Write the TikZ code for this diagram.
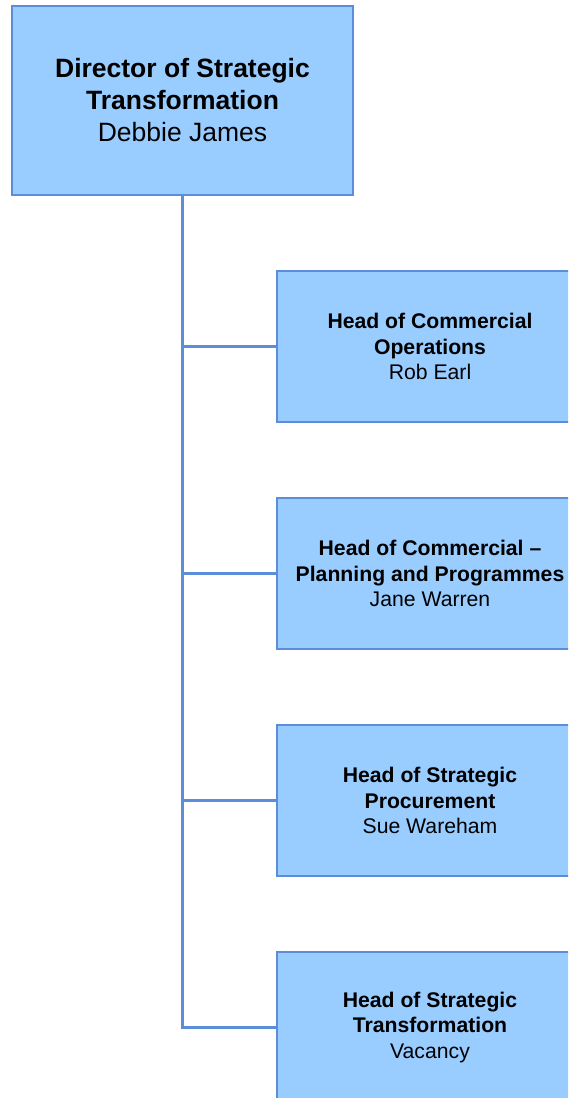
\documentclass[tikz,border=0pt]{standalone}
\usepackage{fontspec}
\setmainfont{Liberation Sans}
\usepackage{xcolor}
\usepackage{tikz}
\usetikzlibrary{positioning,calc}
\definecolor{postfill}{HTML}{99CCFF}
\definecolor{postline}{HTML}{5B8DD9}

\begin{document}
\begin{tikzpicture}[x=1pt, y=-1pt,
    post/.style={rectangle, draw=postline, fill=postfill, line width=2pt, align=center, inner sep=0pt},
    link/.style={draw=postline, line width=3pt}]
    \useasboundingbox (0,0) rectangle (568,1098);
    \clip (0,0) rectangle (568,1098);

    \node [post, minimum width=341pt, minimum height=189pt, font=\fontsize{26.5}{32}\selectfont] (dir) at (182.5,100.5)
        {{\bfseries Director of Strategic}\\{\bfseries Transformation}\\Debbie James};

    \foreach \y/\ta/\tb/\name [count=\i] in {346.5/Head of Commercial/Operations/Rob Earl,
                                        573.5/Head of Commercial --/Planning and Programmes/Jane Warren,
                                        800.5/Head of Strategic/Procurement/Sue Wareham,
                                        1027.5/Head of Strategic/Transformation/Vacancy}
        \node [post, minimum width=306pt, minimum height=151pt, font=\fontsize{21.2}{25.5}\selectfont] (head\i) at (430,\y)
            {{\bfseries \ta}\\{\bfseries \tb}\\\name};

    % reporting lines
    \draw [link] (dir.south) -- (dir.south |- head4.west) -- (head4.west);
    \foreach \i in {1,2,3}
        \draw [link] (dir.south |- head\i.west) -- (head\i.west);
\end{tikzpicture}
\end{document}
